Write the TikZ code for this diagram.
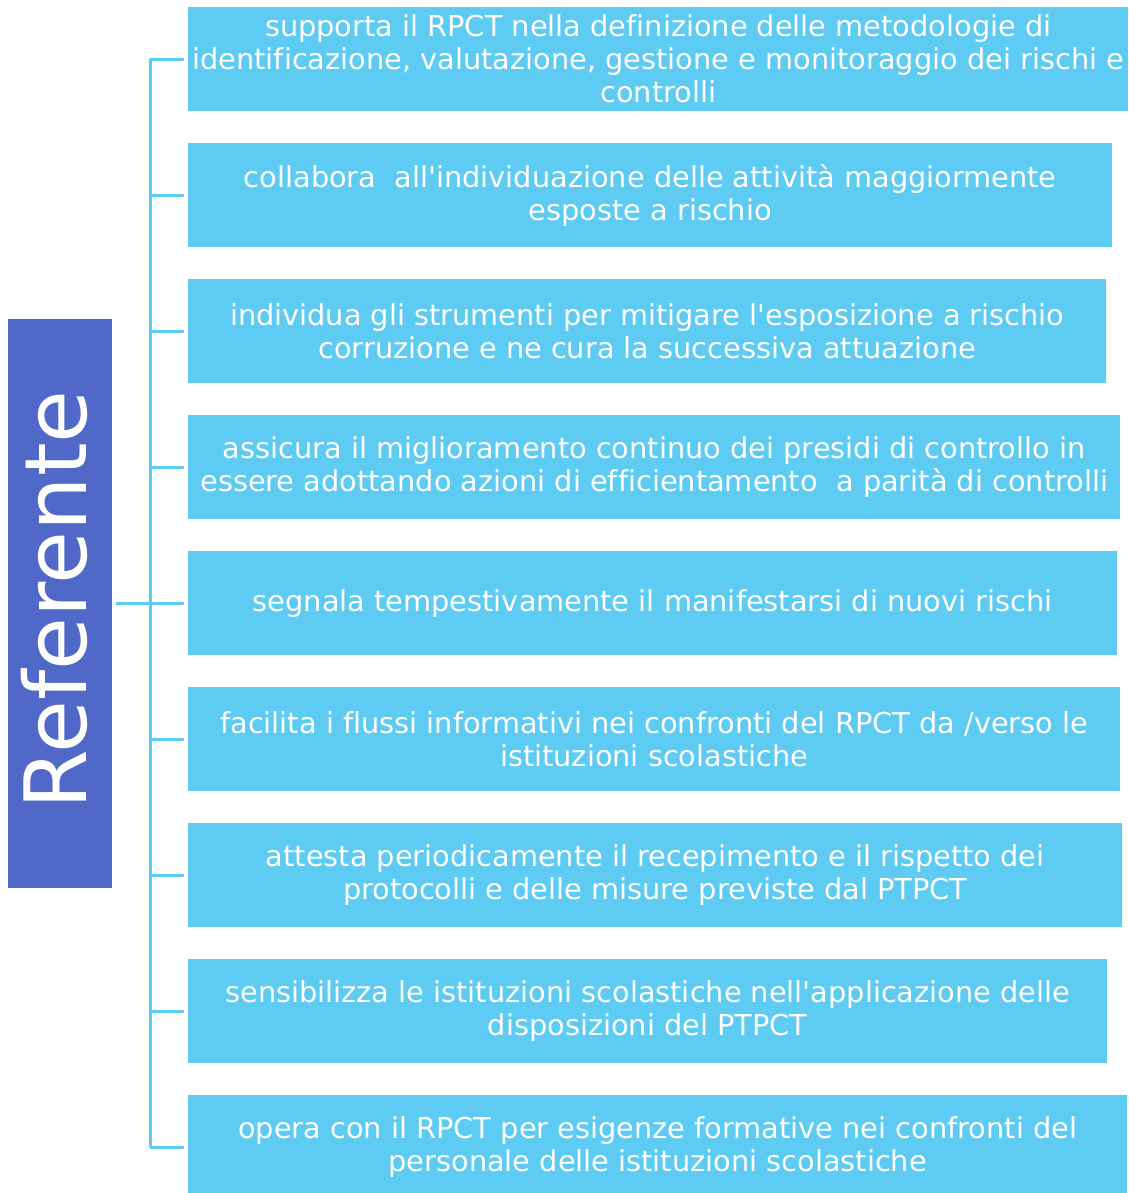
\documentclass[tikz,border=0pt]{standalone}
\usepackage{fontspec}
\setmainfont{DejaVu Sans}[Ligatures={TeXOff,NoCommon}]
\definecolor{celeste}{HTML}{5DCBF2}
\definecolor{bluref}{HTML}{5068C8}
\begin{document}
\begin{tikzpicture}[x=1pt, y=-1pt,
		voce/.style = {fill=celeste, text=white, align=center, inner sep=0pt,
			minimum height=104pt, font=\fontsize{28.8}{33}\selectfont},
		ramo/.style = {draw=celeste, line width=3pt}]
	\useasboundingbox (0,0) rectangle (1128,1193);
	\matrix [row sep = 32pt, inner sep = 0pt, anchor = north west,
		column 1/.style = {anchor = west}] at (188,7) {
	 \node[voce, minimum width=940pt] (V1) {supporta il RPCT nella definizione delle metodologie di\\identificazione, valutazione, gestione e monitoraggio dei rischi e\\controlli}; \\
	 \node[voce, minimum width=924pt] (V2) {collabora~ all'individuazione delle attività maggiormente\\esposte a rischio}; \\
	 \node[voce, minimum width=918pt] (V3) {individua gli strumenti per mitigare l'esposizione a rischio\\corruzione e ne cura la successiva attuazione}; \\
	 \node[voce, minimum width=932pt] (V4) {assicura il miglioramento continuo dei presidi di controllo in\\essere adottando azioni di efficientamento~ a parità di controlli}; \\
	 \node[voce, minimum width=929pt] (V5) {segnala tempestivamente il manifestarsi di nuovi rischi}; \\
	 \node[voce, minimum width=932pt] (V6) {facilita i flussi informativi nei confronti del RPCT da /verso le\\istituzioni scolastiche}; \\
	 \node[voce, minimum width=934pt] (V7) {attesta periodicamente il recepimento e il rispetto dei\\protocolli e delle misure previste dal PTPCT}; \\
	 \node[voce, minimum width=919pt] (V8) {sensibilizza le istituzioni scolastiche nell'applicazione delle\\disposizioni del PTPCT}; \\
	 \node[voce, minimum width=939pt] (V9) {opera con il RPCT per esigenze formative nei confronti del\\personale delle istituzioni scolastiche}; \\
	};
	% referente
	\node[fill=bluref, minimum width=104pt, minimum height=569pt, inner sep=0pt] (R) at (60,603) {};
	\node[text=white, rotate=90, inner sep=0pt, font=\fontsize{86}{86}\selectfont] (Rt) at (54,600) {Referente};
	% rami
	\coordinate (asse) at (150,0);
	\draw[ramo] (V1.west -| asse) to (V9.west -| asse);
	\foreach \i in {1,...,9}
		\draw[ramo, shorten >=4pt] (V\i.west -| asse) to (V\i.west);
	\draw[ramo, shorten <=4pt, shorten >=4pt] (R.east |- V5.west) to (V5.west);
\end{tikzpicture}
\end{document}
